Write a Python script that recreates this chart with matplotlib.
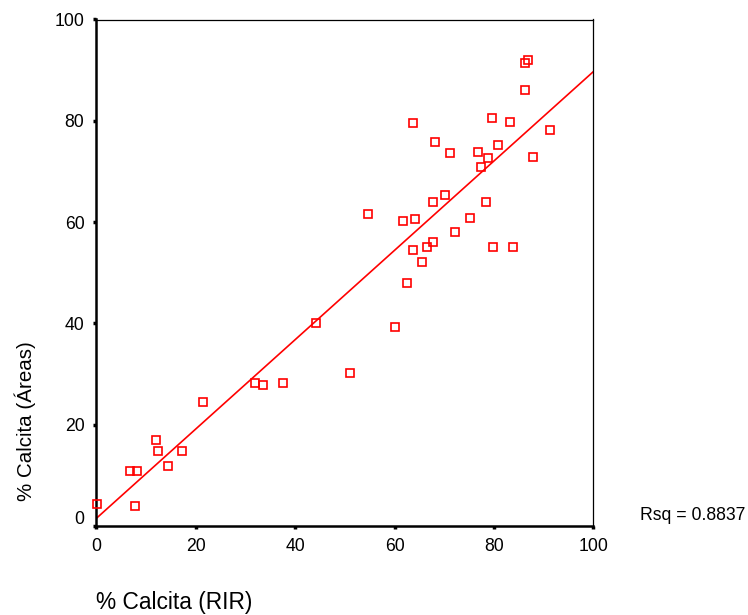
import numpy as np
import matplotlib
matplotlib.use('Agg')
import matplotlib.pyplot as plt
import matplotlib.transforms as mtransforms

plt.rcParams['font.family'] = ['Liberation Sans', 'DejaVu Sans']

# % Calcita (RIR) vs % Calcita (Areas)
rir = [0.1, 6.8, 8.1, 7.8, 12.1, 12.5, 14.5, 17.2, 21.5, 31.9, 33.6, 37.6,
       44.3, 51.0, 54.7, 60.1, 61.8, 62.5, 63.8, 64.1, 63.8, 65.5, 66.5, 67.8,
       67.8, 68.1, 70.2, 71.2, 72.1, 75.2, 76.9, 77.5, 78.5, 78.9, 79.6, 79.9,
       80.9, 83.2, 83.9, 86.2, 86.3, 86.9, 87.9, 91.3]
areas = [4.3, 10.9, 10.9, 4.0, 17.0, 14.9, 11.9, 14.9, 24.5, 28.2, 27.8, 28.2,
         40.1, 30.2, 61.6, 39.2, 60.3, 48.0, 79.5, 60.6, 54.4, 52.1, 55.0, 56.0,
         63.9, 75.9, 65.4, 73.6, 58.0, 60.9, 73.9, 70.9, 63.9, 72.6, 80.5, 55.0,
         75.2, 79.8, 55.0, 86.1, 91.4, 92.0, 72.9, 78.2]
fit_line = [1.5, 0.882]  # intercept, slope
rsq_text = 'Rsq = 0.8837'

fig = plt.figure(figsize=(7.48, 6.15), dpi=100)
ax = fig.add_axes([96.3/748, 89/615, 497/748, 506.5/615])

ax.plot(rir, areas, linestyle='None', marker='s', markersize=5.7,
        markerfacecolor='none', markeredgecolor='#ff0000', markeredgewidth=1.2,
        clip_on=False, zorder=3)
xx = np.array([0, 100])
ax.plot(xx, fit_line[0] + fit_line[1]*xx, color='#ff0000', lw=1.2, zorder=2)

ax.set_xlim(0, 100)
ax.set_ylim(0, 100)
ax.set_xticks([0, 20, 40, 60, 80, 100])
ax.set_yticks([0, 20, 40, 60, 80, 100])
for s in ['left', 'bottom']:
    ax.spines[s].set_linewidth(1.8)
for s in ['top', 'right']:
    ax.spines[s].set_linewidth(0.9)
ax.tick_params(direction='out', length=2.5, width=2.5, labelsize=12.7, pad=6)

# shift the y "0" label up a bit like the original
fig.canvas.draw()
lab0 = ax.get_yticklabels()[0]
lab0.set_transform(lab0.get_transform() +
                   mtransforms.ScaledTranslation(0, 8/100, fig.dpi_scale_trans))

fig.text(96/748, 1 - 603/615, '% Calcita (RIR)', fontsize=16.4,
         ha='left', va='center')
fig.text(25/748, 1 - 421/615, '% Calcita (Áreas)', fontsize=14.8,
         rotation=90, ha='center', va='center')
fig.text(640/748, 1 - 515/615, rsq_text, fontsize=12.7, ha='left', va='center')

fig.savefig('out.png', dpi=100)
